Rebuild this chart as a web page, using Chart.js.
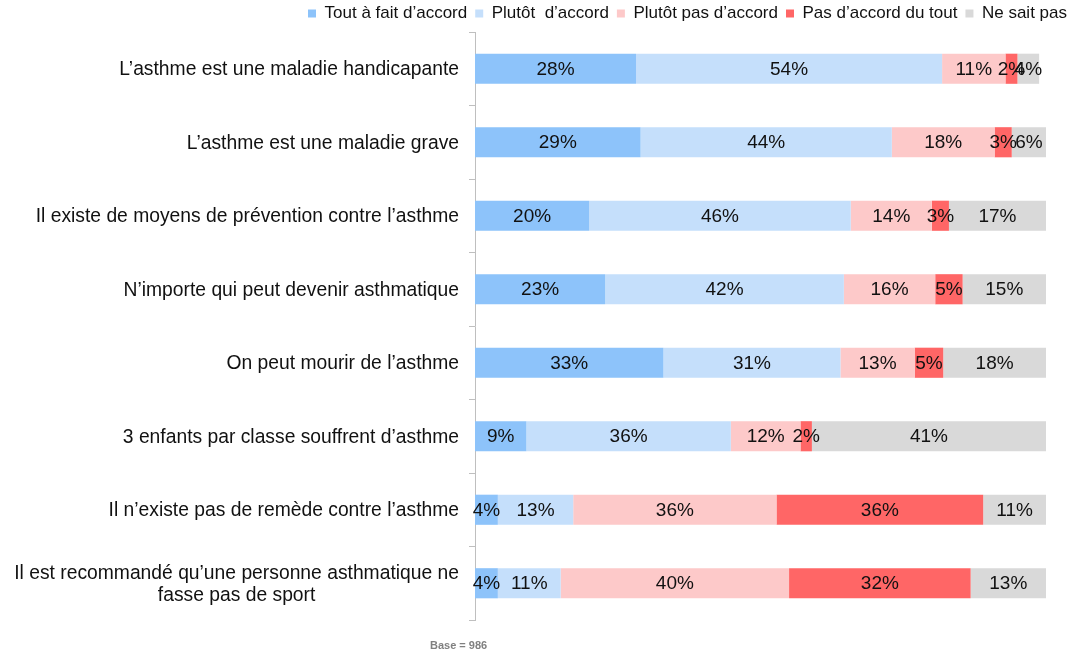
<!DOCTYPE html>
<html>
<head>
<meta charset="utf-8">
<script src="https://cdn.jsdelivr.net/npm/chart.js@4/dist/chart.umd.min.js"></script>
<style>
  html, body { margin: 0; padding: 0; background: #fff; }
  #wrap { width: 1078px; height: 654px; position: relative; }
</style>
</head>
<body>
<div id="wrap"><canvas id="chart"></canvas></div>
<script>
const categories = [
  'L’asthme est une maladie handicapante',
  'L’asthme est une maladie grave',
  'Il existe de moyens de prévention contre l’asthme',
  'N’importe qui peut devenir asthmatique',
  'On peut mourir de l’asthme',
  '3 enfants par classe souffrent d’asthme',
  'Il n’existe pas de remède contre l’asthme',
  ['Il est recommandé qu’une personne asthmatique ne', 'fasse pas de sport']
];

const toutAFait   = [28.2, 29.0, 20.0, 22.8, 33.0, 9.0, 4.0, 4.0];
const plutot      = [53.6, 44.0, 45.8, 41.8, 31.0, 35.8, 13.2, 11.0];
const plutotPas   = [11.1, 18.0, 14.2, 16.0, 13.0, 12.2, 35.6, 40.0];
const pasDuTout   = [2.1, 3.0, 3.0, 4.8, 5.0, 2.0, 36.2, 31.8];
const neSaitPas   = [3.8, 6.0, 17.0, 14.6, 18.0, 41.0, 11.0, 13.2];

const seriesNames = ['Tout à fait d’accord', 'Plutôt  d’accord', 'Plutôt pas d’accord', 'Pas d’accord du tout', 'Ne sait pas'];
const seriesColors = ['#8dc3fa', '#c5dffb', '#fdc9c9', '#ff6666', '#d9d9d9'];

const FONT = 'Arial, "Liberation Sans", sans-serif';

// percentages written inside each segment
const segmentLabels = {
  id: 'segmentLabels',
  afterDatasetsDraw(chart) {
    const ctx = chart.ctx;
    ctx.save();
    ctx.font = '19px ' + FONT;
    ctx.fillStyle = '#111';
    ctx.textAlign = 'center';
    ctx.textBaseline = 'middle';
    chart.data.datasets.forEach((ds, i) => {
      const meta = chart.getDatasetMeta(i);
      meta.data.forEach((bar, j) => {
        ctx.fillText(Math.round(ds.data[j]) + '%', (bar.x + bar.base) / 2, bar.y + 1);
      });
    });
    ctx.restore();
  }
};

// category labels: right-aligned block, lines centred inside it
const categoryLabels = {
  id: 'categoryLabels',
  afterDraw(chart) {
    const ctx = chart.ctx;
    const y = chart.scales.y;
    const right = y.right - 16;
    const lineH = 22;
    ctx.save();
    ctx.font = '19.3px ' + FONT;
    ctx.fillStyle = '#111';
    ctx.textBaseline = 'middle';
    ctx.textAlign = 'center';
    categories.forEach((lab, i) => {
      const lines = Array.isArray(lab) ? lab : [lab];
      const w = Math.max(...lines.map(l => ctx.measureText(l).width));
      const cx = right - w / 2;
      const cy = y.getPixelForTick(i);
      lines.forEach((l, k) => {
        ctx.fillText(l, cx, cy + 1 + (k - (lines.length - 1) / 2) * lineH);
      });
    });
    ctx.restore();
  }
};

const baseNote = {
  id: 'baseNote',
  afterDraw(chart) {
    const ctx = chart.ctx;
    ctx.save();
    ctx.font = 'bold 11px ' + FONT;
    ctx.fillStyle = '#808080';
    ctx.textAlign = 'left';
    ctx.textBaseline = 'middle';
    ctx.fillText('Base = 986', 430, 646);
    ctx.restore();
  }
};

const datasets = [toutAFait, plutot, plutotPas, pasDuTout, neSaitPas].map((d, i) => ({
  label: seriesNames[i],
  data: d,
  backgroundColor: seriesColors[i],
  borderWidth: 0,
  barPercentage: 0.41,
  categoryPercentage: 1.0
}));

new Chart(document.getElementById('chart'), {
  type: 'bar',
  data: { labels: categories, datasets: datasets },
  plugins: [segmentLabels, categoryLabels, baseNote],
  options: {
    indexAxis: 'y',
    responsive: true,
    maintainAspectRatio: false,
    animation: false,
    layout: { padding: { left: 0, right: 3, top: -3, bottom: 34 } },
    plugins: {
      tooltip: { enabled: false },
      legend: {
        position: 'top',
        align: 'end',
        labels: {
          boxWidth: 8,
          boxHeight: 8,
          padding: 8,
          color: '#111',
          font: { family: FONT, size: 17 }
        }
      }
    },
    scales: {
      x: {
        stacked: true,
        min: 0,
        max: 100,
        display: false
      },
      y: {
        stacked: true,
        afterFit(scale) { scale.width = 475; },
        border: { display: true, color: '#bfbfbf', width: 1 },
        grid: { drawOnChartArea: false, tickLength: 6, color: '#bfbfbf', offset: true },
        ticks: { display: false }
      },
      yRight: {
        type: 'linear',
        position: 'right',
        afterFit(scale) { scale.width = 29; },
        border: { display: false },
        grid: { display: false },
        ticks: { display: false }
      }
    }
  }
});
</script>
</body>
</html>
